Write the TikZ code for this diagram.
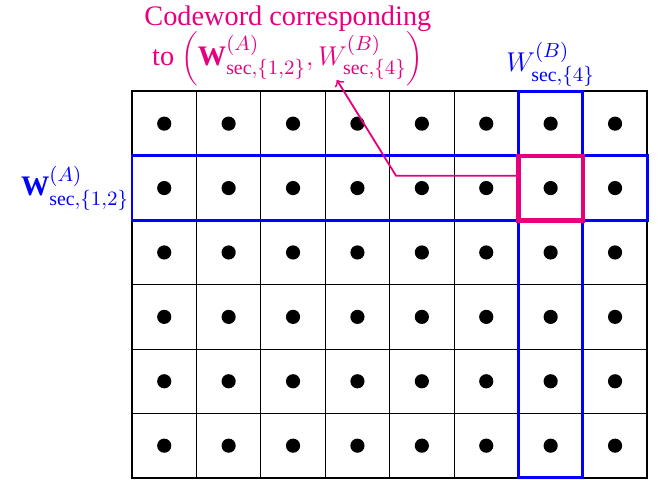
\documentclass[tikz,border=0pt]{standalone}
\usepackage{fontspec}
\setmainfont{Liberation Serif}
\definecolor{hot}{RGB}{230,0,126}
\begin{document}
\begin{tikzpicture}[sel/.style={draw=blue, line width=1.3pt, inner sep=0, outer sep=0},
		hit/.style={draw=hot, line width=2pt, inner sep=0, outer sep=0, minimum size=1cm},
		lbl/.style={font=\fontsize{12.5}{15}\selectfont}]
		\useasboundingbox (-2.05,-0.02) rectangle (8.26,7.42);
		\draw[line width=0.4pt] (0,0) grid (8,6);
		\draw[line width=0.9pt] (0,0) rectangle (8,6);
		\foreach \i in {0,...,7}
			\foreach \j in {0,...,5}
				\fill (\i+0.5,\j+0.5) circle (0.11);

		\node[sel, minimum width=8cm, minimum height=1cm] at (4,4.5) (rowA) {};
		\node[sel, minimum width=1cm, minimum height=6cm] at (6.5,3) (colB) {};
		\node[hit] at (6.5,4.5) (cell) {};

		\node[lbl, text=blue, anchor=east, inner sep=1pt] at (rowA.west) (la) {$\mathbf{W}^{(A)}_{\mathrm{sec},\{1,2\}}$};
		\node[lbl, text=blue, anchor=south, inner sep=2pt] at (colB.north) (lb) {$W^{(B)}_{\mathrm{sec},\{4\}}$};
		\node[lbl, text=hot, align=center] at (2.42,6.71) (cw) {Codeword corresponding\\[-1pt]to $\bigg(\mathbf{W}^{(A)}_{\mathrm{sec},\{1,2\}}, W^{(B)}_{\mathrm{sec},\{4\}}\bigg)$};

		\coordinate (bend) at (4.1,4.69);
		\coordinate (tip) at (3.18,6.18);
		\draw[->, hot, line width=0.8pt] (cell.west |- bend) -- (bend) -- (tip);
	\end{tikzpicture}
\end{document}
